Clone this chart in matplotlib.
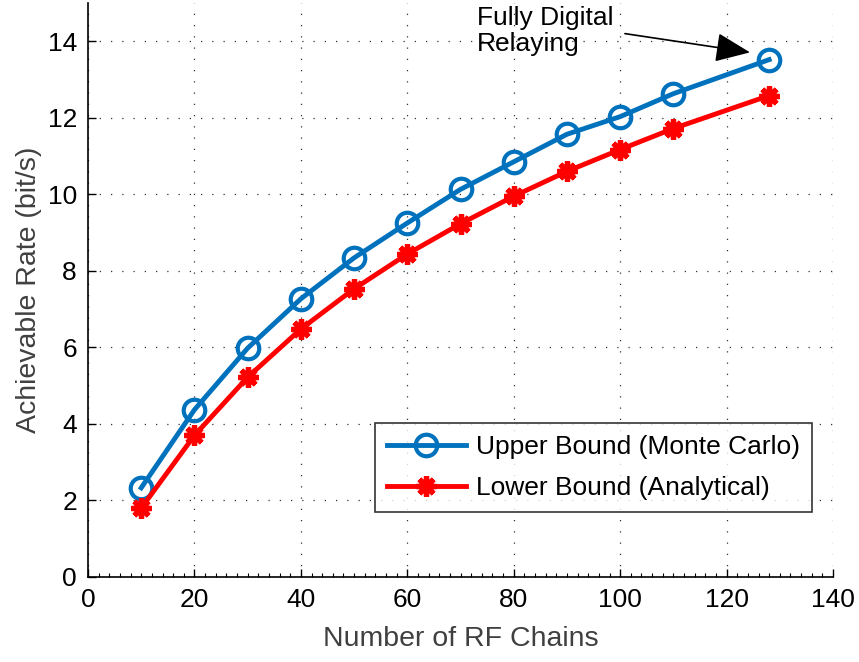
import matplotlib
matplotlib.use("Agg")
import matplotlib.pyplot as plt
from matplotlib.ticker import MultipleLocator

plt.rcParams['font.family'] = ['Liberation Sans', 'DejaVu Sans']

rf_chains = [10, 20, 30, 40, 50, 60, 70, 80, 90, 100, 110, 128]
upper_bound = [2.33, 4.37, 5.98, 7.27, 8.34, 9.25, 10.13, 10.85, 11.57, 12.03, 12.63, 13.52]
lower_bound = [1.80, 3.70, 5.22, 6.48, 7.53, 8.44, 9.23, 9.95, 10.60, 11.17, 11.72, 12.58]
x_ticks = [0, 20, 40, 60, 80, 100, 120, 140]
y_ticks = [0, 2, 4, 6, 8, 10, 12, 14]

blue = '#0072BD'
red = '#FF0000'

fig = plt.figure(figsize=(8.59, 6.62), dpi=100)
ax = fig.add_axes([88/859, 85/662, 745/859, 574/662])

ax.plot(rf_chains, upper_bound, color=blue, lw=3.5, marker='o', ms=15.5,
        mfc='none', mec=blue, mew=3.0, label='Upper Bound (Monte Carlo)', zorder=3)
ax.plot(rf_chains, lower_bound, color=red, lw=3.5, marker=(8, 2, 0), ms=14.5,
        mec=red, mew=3.8, label='Lower Bound (Analytical)', zorder=4)

ax.set_xlim(0, 140)
ax.set_ylim(0, 15)
ax.set_xticks(x_ticks)
ax.set_yticks(y_ticks)
ax.xaxis.set_minor_locator(MultipleLocator(2))
ax.tick_params(axis='both', which='major', direction='in', length=6, width=1,
               labelsize=19, colors='black', pad=8)
ax.tick_params(axis='x', which='minor', direction='in', length=3, width=0.8)
ax.tick_params(axis='y', which='minor', left=False)
for s in ['top', 'right']:
    ax.spines[s].set_visible(False)
for s in ['left', 'bottom']:
    ax.spines[s].set_linewidth(1.2)

ax.grid(True, which='major', linestyle=(0, (1, 8)), color='#333333', lw=0.9)

ax.set_xlabel('Number of RF Chains', fontsize=20.5, color='#404040', labelpad=10)
ax.set_ylabel('Achievable Rate (bit/s)', fontsize=20.5, color='#404040', labelpad=4)

leg = ax.legend(loc='lower right', bbox_to_anchor=(0.972, 0.113), borderaxespad=0,
                fontsize=19, frameon=True, fancybox=False, edgecolor='black',
                handlelength=3.0, borderpad=0.45, labelspacing=0.65, handletextpad=0.4)
leg.get_frame().set_linewidth(1.2)

ax.text(73.1, 14.93, 'Fully Digital\nRelaying', fontsize=19, ha='left', va='top',
        color='black', linespacing=1.1)
ax.annotate('', xy=(124.4, 13.71), xytext=(100.9, 14.2),
            arrowprops=dict(arrowstyle='-|>,head_length=0.9,head_width=0.38',
                            color='black', lw=1.2, mutation_scale=24,
                            shrinkA=0, shrinkB=0),
            annotation_clip=False)

fig.savefig('out.png', dpi=100)
